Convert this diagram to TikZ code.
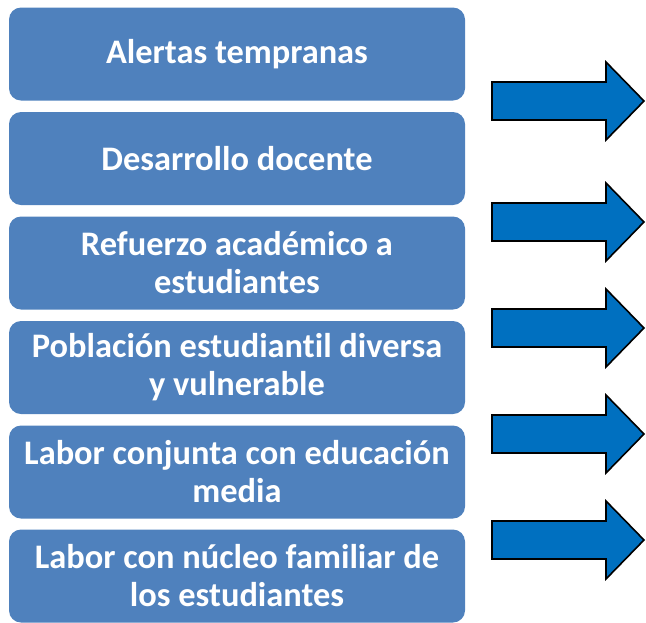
\documentclass[tikz,border=0pt]{standalone}
\usepackage{fontspec}
\setmainfont[Ligatures=NoCommon]{Carlito}
\definecolor{boxblue}{HTML}{4F81BD}
\definecolor{arrowblue}{HTML}{0070C0}
\begin{document}
\begin{tikzpicture}[x=0.75pt,y=-0.75pt,
  itembox/.style={rectangle, rounded corners=9pt, fill=boxblue, draw=none,
    minimum width=342pt, minimum height=69.75pt, inner sep=0pt,
    text=white, align=center, font=\fontsize{25.8}{28.5}\selectfont\bfseries},
  bigarrow/.style={fill=arrowblue, draw=black, line width=1.2pt, line join=miter}]
\useasboundingbox (0,0) rectangle (646,622);
\node[itembox] (b1) at (237,54) {Alertas tempranas};
\node[itembox] (b2) at (237,158.5) {Desarrollo docente};
\node[itembox] (b3) at (237,263) {Refuerzo académico a\\estudiantes};
\node[itembox] (b4) at (237,367.5) {Población estudiantil diversa\\y vulnerable};
\node[itembox] (b5) at (237,472) {Labor conjunta con educación\\media};
\node[itembox] (b6) at (237,576) {Labor con núcleo familiar de\\los estudiantes};
\foreach \n/\y in {1/101,2/222,3/328,4/434,5/540}{
  \coordinate (a\n) at (492,\y-19);
  \draw[bigarrow] (a\n) -- ++(114,0) -- ++(0,-20) -- ++(38,39)
     -- ++(-38,39) -- ++(0,-20) -- ++(-114,0) -- cycle;
}
\end{tikzpicture}
\end{document}
